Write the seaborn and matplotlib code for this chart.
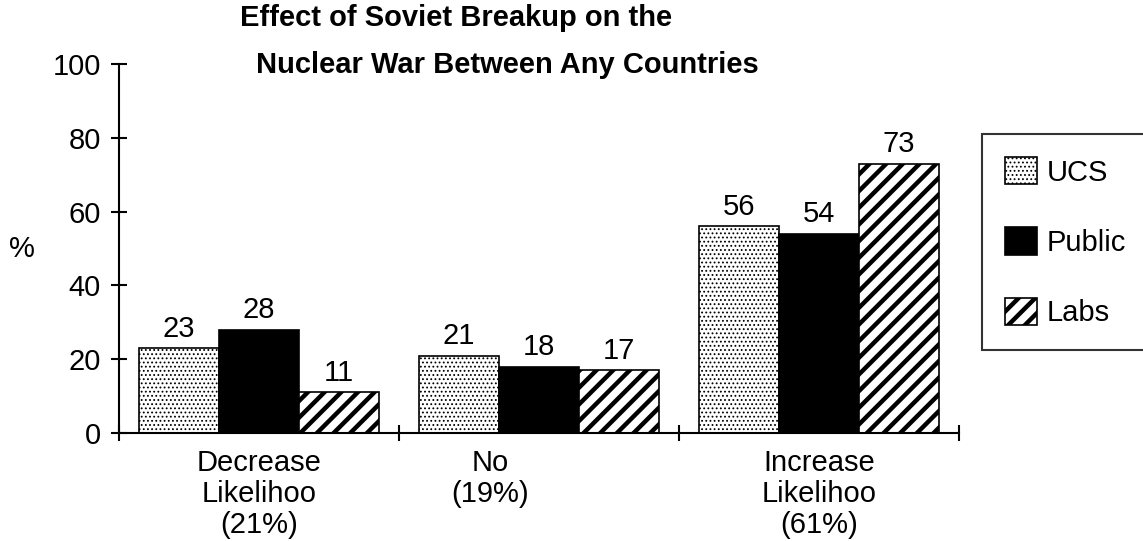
import pandas as pd
import matplotlib.pyplot as plt
import matplotlib.transforms as mtransforms
import seaborn as sns
from matplotlib.ticker import FixedLocator

# data
categories = ['Decrease\nLikelihoo\n(21%)', 'No\n(19%)', 'Increase\nLikelihoo\n(61%)']
groups = ['UCS', 'Public', 'Labs']
ucs = [23, 21, 56]
public = [28, 18, 54]
labs = [11, 17, 73]

df = pd.DataFrame({
    'answer': categories * 3,
    'group': [g for g in groups for _ in categories],
    'pct': ucs + public + labs,
})

sns.set_style('white')
plt.rcParams['font.family'] = ['Liberation Sans', 'DejaVu Sans']
plt.rcParams['text.color'] = 'black'
plt.rcParams['axes.labelcolor'] = 'black'
plt.rcParams['xtick.color'] = 'black'
plt.rcParams['ytick.color'] = 'black'
plt.rcParams['hatch.linewidth'] = 2.0

fs = 21


def set_hlw(p, hl):
    if hasattr(p, 'set_hatch_linewidth'):
        p.set_hatch_linewidth(hl)
    else:
        p._hatch_linewidth = hl


fig = plt.figure(figsize=(11.43, 5.41), dpi=100)
ax = fig.add_axes([0.1041, 0.1996, 0.7349, 0.6821])

sns.barplot(data=df, x='answer', y='pct', hue='group', order=categories,
            hue_order=groups, palette=['white', 'black', 'white'],
            saturation=1, width=0.857, edgecolor='black', linewidth=1.2,
            legend=False, ax=ax)

# hatches per series (dots thin, stripes thick)
hatches = ['....', '', '//']
hatch_lw = [0.8, 1.0, 3.2]
for cont, h, hl in zip(ax.containers, hatches, hatch_lw):
    for p in cont.patches:
        p.set_hatch(h)
        set_hlw(p, hl)
    ax.bar_label(cont, padding=4, fontsize=fs)

ax.set_xlim(-0.5, 2.5)
ax.set_ylim(0, 100)
ax.set_yticks(range(0, 101, 20))
ax.tick_params(axis='y', left=True, direction='inout', length=12, width=1.5,
               pad=7, labelsize=fs)
ax.set_xticks(range(3))
ax.set_xticklabels([])
ax.tick_params(axis='x', which='major', bottom=False)
ax.xaxis.set_minor_locator(FixedLocator([-0.5, 0.5, 1.5, 2.5]))
ax.tick_params(axis='x', which='minor', bottom=True, direction='inout',
               length=12, width=1.5)

for s in ['top', 'right']:
    ax.spines[s].set_visible(False)
for s in ['left', 'bottom']:
    ax.spines[s].set_color('black')
    ax.spines[s].set_linewidth(1.5)

# category labels under the groups
trans = mtransforms.blended_transform_factory(ax.transData, ax.transAxes)
shifts = [0, -0.175, 0]
for i, lab in enumerate(categories):
    ax.text(i + shifts[i], -0.043, lab, transform=trans, ha='center',
            va='top', fontsize=fs, linespacing=1.15)

ax.set_xlabel('')
ax.set_ylabel('%', rotation=0, fontsize=fs, va='center', ha='center')
ax.yaxis.set_label_coords(-0.115, 0.5)

fig.text(0.399, 0.952, 'Effect of Soviet Breakup on the', ha='center',
         va='baseline', fontsize=21, fontweight='bold')
fig.text(0.4436, 0.865, 'Nuclear War Between Any Countries', ha='center',
         va='baseline', fontsize=21, fontweight='bold')

leg = ax.legend(handles=[c.patches[0] for c in ax.containers], labels=groups,
                loc='upper left', bbox_to_anchor=(982 / 1143, 1 - 134 / 541),
                bbox_transform=fig.transFigure, borderaxespad=0,
                frameon=True, fancybox=False, edgecolor='black',
                fontsize=fs, handlelength=1.1, handleheight=1.06,
                labelspacing=1.4, handletextpad=0.34, borderpad=0.79)
leg.get_frame().set_linewidth(1.5)
for hnd, hl in zip(leg.legend_handles, hatch_lw):
    set_hlw(hnd, hl)

fig.savefig('out.png', dpi=100)
